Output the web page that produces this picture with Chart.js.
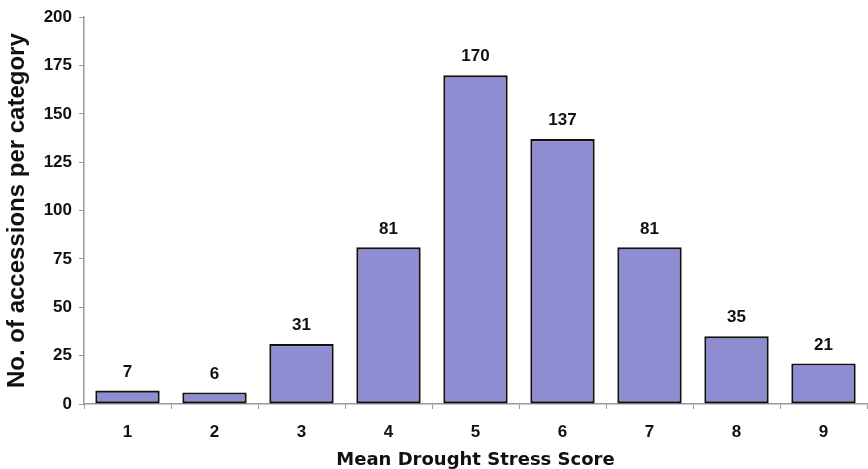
<!DOCTYPE html>
<html>
<head>
<meta charset="utf-8">
<script src="https://cdn.jsdelivr.net/npm/chart.js@4"></script>
<style>
  html, body { margin: 0; padding: 0; background: #fff; }
  #wrap { width: 868px; height: 469px; }
</style>
</head>
<body>
<div id="wrap"><canvas id="drought-chart" width="868" height="469"></canvas></div>
<script>
const categories = ["1", "2", "3", "4", "5", "6", "7", "8", "9"];
const accessions = [7, 6, 31, 81, 170, 137, 81, 35, 21];
const yTicks = [0, 25, 50, 75, 100, 125, 150, 175, 200];

const tickFont = { family: "Liberation Sans", size: 17, weight: "bold" };

// value labels on top of each bar
const barValueLabels = {
  id: "barValueLabels",
  afterDatasetsDraw(chart) {
    const ctx = chart.ctx;
    const meta = chart.getDatasetMeta(0);
    ctx.save();
    ctx.font = "bold 17px 'Liberation Sans'";
    ctx.fillStyle = "#111";
    ctx.textAlign = "center";
    ctx.textBaseline = "bottom";
    meta.data.forEach((bar, i) => {
      ctx.fillText(accessions[i], bar.x, bar.y - 10);
    });
    ctx.restore();
  },
};

const ctx = document.getElementById("drought-chart").getContext("2d");
new Chart(ctx, {
  type: "bar",
  plugins: [barValueLabels],
  data: {
    labels: categories,
    datasets: [
      {
        data: accessions,
        backgroundColor: "#8f8dd2",
        borderColor: "#111111",
        borderWidth: 2.2,
        borderSkipped: false,
        barPercentage: 0.74,
        categoryPercentage: 1,
      },
    ],
  },
  options: {
    responsive: false,
    animation: false,
    layout: { padding: { top: 16, right: 1, left: 0, bottom: 0 } },
    plugins: {
      legend: { display: false },
      tooltip: { enabled: false },
    },
    scales: {
      x: {
        grid: {
          display: true,
          offset: true,
          drawOnChartArea: false,
          drawTicks: true,
          tickLength: 5,
          color: "#999",
        },
        border: { display: true, color: "#999", width: 1.5 },
        ticks: { color: "#111", font: tickFont, padding: 13 },
        title: {
          display: true,
          text: "Mean Drought Stress Score",
          color: "#111",
          font: { family: "DejaVu Sans", size: 18, weight: "bold", lineHeight: 1 },
          padding: { top: 0, bottom: 0 },
        },
        afterFit(scale) {
          scale.height = 65;
        },
      },
      y: {
        min: 0,
        max: 200,
        afterBuildTicks(scale) {
          scale.ticks = yTicks.map((v) => ({ value: v }));
        },
        grid: {
          display: true,
          drawOnChartArea: false,
          drawTicks: true,
          tickLength: 5,
          color: "#999",
        },
        border: { display: true, color: "#999", width: 1.5 },
        ticks: { color: "#111", font: tickFont, padding: 7 },
        title: {
          display: true,
          text: "No. of accessions per category",
          color: "#111",
          font: { family: "Liberation Sans", size: 24, weight: "bold", lineHeight: 1 },
          padding: { top: 5, bottom: 0 },
        },
        afterFit(scale) {
          scale.width = 84;
        },
      },
    },
  },
});
</script>
</body>
</html>
